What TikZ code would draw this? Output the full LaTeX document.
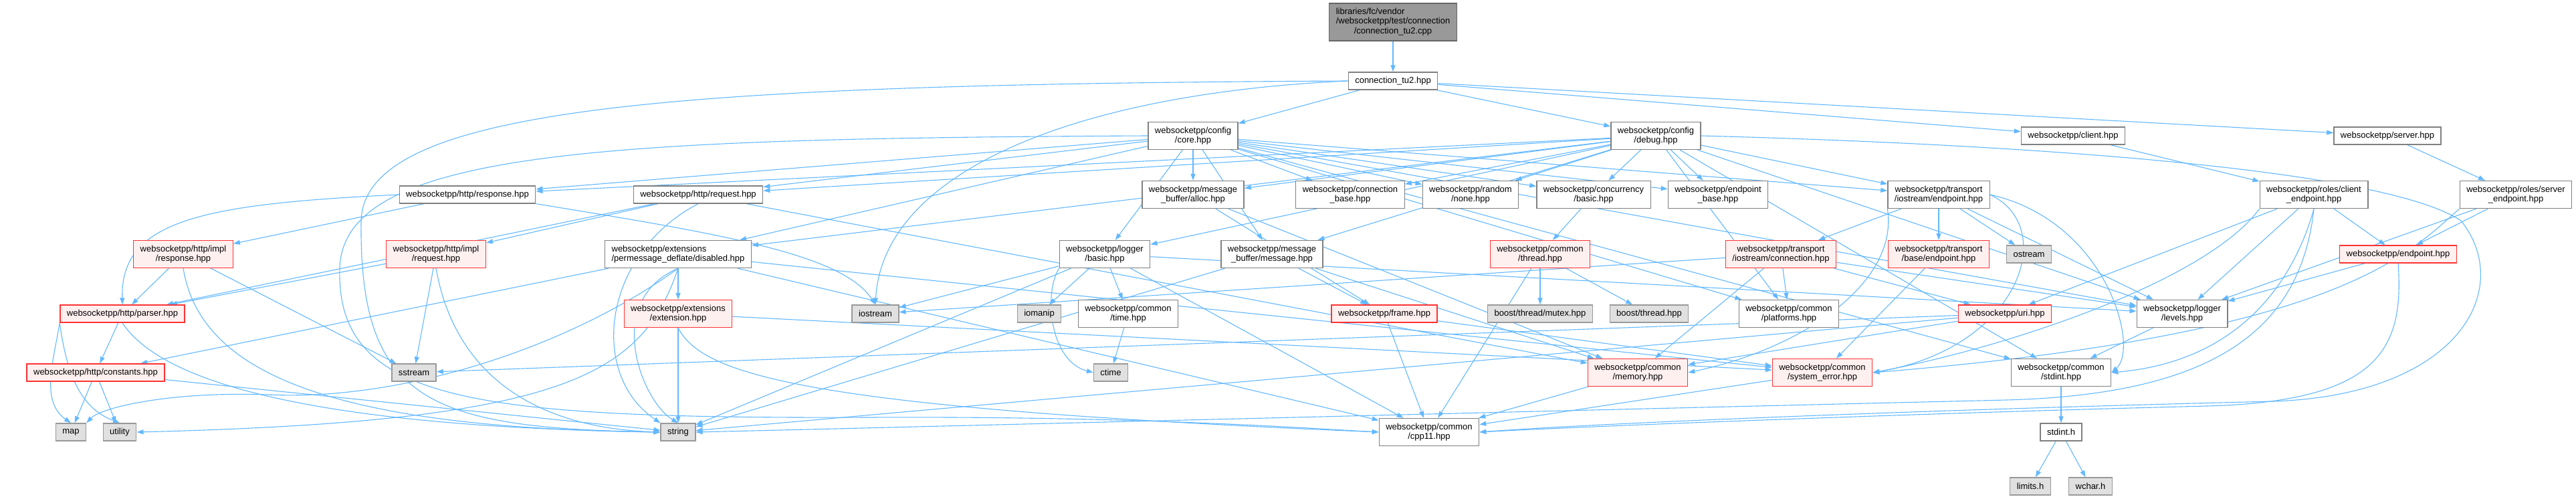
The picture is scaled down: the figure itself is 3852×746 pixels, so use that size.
\documentclass[tikz,border=0pt]{standalone}
\usepackage{fontspec}
\setmainfont{Liberation Sans}
\usepackage{tikz}
\usetikzlibrary{arrows.meta, positioning}
\definecolor{edgeblue}{HTML}{63B8FF}
\definecolor{boxgray}{HTML}{808080}
\definecolor{rootfill}{HTML}{999999}
\definecolor{rootdraw}{HTML}{666666}
\definecolor{hdrred}{HTML}{FFF0F0}
\definecolor{boxred}{HTML}{FF3333}
\definecolor{sysfill}{HTML}{E0E0E0}
\definecolor{sysdraw}{HTML}{999999}
\pgfdeclarelayer{background}
\pgfsetlayers{background,main}
\tikzset{
  filebox/.style={rectangle, draw=boxgray, fill=white, align=center,
    font=\fontsize{13}{14.5}\selectfont, inner xsep=10pt, inner ysep=3pt,
    minimum height=26pt, line width=1.3pt},
  twoline/.style={minimum height=41pt},
  redbox/.style={filebox, draw=boxred, fill=hdrred},
  sysbox/.style={filebox, draw=sysdraw, fill=sysfill},
  rootbox/.style={filebox, draw=rootdraw, fill=rootfill, minimum height=56pt},
  edge/.style={-{Stealth[length=10pt, width=7pt, inset=0pt]}, line width=1.1pt, color=edgeblue}
}

\begin{document}
\begin{tikzpicture}[x=1pt, y=-1pt]
  \useasboundingbox (0,0) rectangle (3852,746);
  % rows of files
  \node[rootbox] (root) at (2083,33) {\begin{tabular}{@{}l@{}}libraries/fc/vendor\\/websocketpp/test/connection\\\multicolumn{1}{@{}c@{}}{/connection\_tu2.cpp}\end{tabular}};
  \node[filebox] (tu2) at (2083,121) {connection\_tu2.hpp};
  \node[filebox, twoline] (core) at (1784,203) {websocketpp/config\\/core.hpp};
  \node[filebox, twoline] (debug) at (2476,203) {websocketpp/config\\/debug.hpp};
  \node[filebox] (client) at (3100,203) {websocketpp/client.hpp};
  \node[filebox] (server) at (3570,203) {websocketpp/server.hpp};
  \node[filebox] (response) at (699,291) {websocketpp/http/response.hpp};
  \node[filebox] (request) at (1044,291) {websocketpp/http/request.hpp};
  \node[filebox, twoline] (alloc) at (1784,291) {websocketpp/message\\\_buffer/alloc.hpp};
  \node[filebox, twoline] (connbase) at (2019,291) {websocketpp/connection\\\_base.hpp};
  \node[filebox, twoline] (none) at (2199,291) {websocketpp/random\\/none.hpp};
  \node[filebox, twoline] (basic) at (2383,291) {websocketpp/concurrency\\/basic.hpp};
  \node[filebox, twoline] (epbase) at (2569,291) {websocketpp/endpoint\\\_base.hpp};
  \node[filebox, twoline] (ioendpoint) at (2899,291) {websocketpp/transport\\/iostream/endpoint.hpp};
  \node[filebox, twoline] (clientep) at (3460,291) {websocketpp/roles/client\\\_endpoint.hpp};
  \node[filebox, twoline] (serverep) at (3762,291) {websocketpp/roles/server\\\_endpoint.hpp};
  \node[redbox, twoline] (implresp) at (274,380) {websocketpp/http/impl\\/response.hpp};
  \node[redbox, twoline] (implreq) at (652,380) {websocketpp/http/impl\\/request.hpp};
  \node[filebox, twoline, align=left] (disabled) at (1014,380) {websocketpp/extensions\\/permessage\_deflate/disabled.hpp};
  \node[filebox, twoline] (logbasic) at (1652,380) {websocketpp/logger\\/basic.hpp};
  \node[filebox, twoline] (message) at (1902,380) {websocketpp/message\\\_buffer/message.hpp};
  \node[redbox, twoline] (thread) at (2303,380) {websocketpp/common\\/thread.hpp};
  \node[redbox, twoline] (ioconn) at (2663,380) {websocketpp/transport\\/iostream/connection.hpp};
  \node[redbox, twoline] (baseep) at (2899,380) {websocketpp/transport\\/base/endpoint.hpp};
  \node[sysbox] (ostream) at (3034,380) {ostream};
  \node[redbox] (endpoint) at (3586,380) {websocketpp/endpoint.hpp};
  \node[redbox] (parser) at (183,469) {websocketpp/http/parser.hpp};
  \node[redbox, twoline] (extension) at (1014,469) {websocketpp/extensions\\/extension.hpp};
  \node[sysbox] (iostream) at (1309,469) {iostream};
  \node[sysbox] (iomanip) at (1554,469) {iomanip};
  \node[filebox, twoline] (time) at (1687,469) {websocketpp/common\\/time.hpp};
  \node[redbox] (frame) at (2070,469) {websocketpp/frame.hpp};
  \node[sysbox] (mutex) at (2303,469) {boost/thread/mutex.hpp};
  \node[sysbox] (bthread) at (2466,469) {boost/thread.hpp};
  \node[filebox, twoline] (platforms) at (2675,469) {websocketpp/common\\/platforms.hpp};
  \node[redbox] (uri) at (2998,469) {websocketpp/uri.hpp};
  \node[filebox, twoline] (levels) at (3263,469) {websocketpp/logger\\/levels.hpp};
  \node[redbox] (constants) at (143,557) {websocketpp/http/constants.hpp};
  \node[sysbox] (sstream) at (619,557) {sstream};
  \node[sysbox] (ctime) at (1661,557) {ctime};
  \node[redbox, twoline] (memory) at (2449,557) {websocketpp/common\\/memory.hpp};
  \node[redbox, twoline] (syserr) at (2725,557) {websocketpp/common\\/system\_error.hpp};
  \node[filebox, twoline] (stdint) at (3082,557) {websocketpp/common\\/stdint.hpp};
  \node[sysbox] (map) at (106,646) {map};
  \node[sysbox] (utility) at (179,646) {utility};
  \node[sysbox] (string) at (1014,646) {string};
  \node[filebox, twoline] (cpp11) at (2137,646) {websocketpp/common\\/cpp11.hpp};
  \node[filebox] (stdinth) at (3082,646) {stdint.h};
  \node[sysbox] (limits) at (3036,727) {limits.h};
  \node[sysbox] (wchar) at (3126,727) {wchar.h};

  \begin{pgfonlayer}{background}
  \foreach \a/\b in {root/tu2, tu2/core, tu2/debug, tu2/client, tu2/server,
      core/response, core/request, core/alloc, core/connbase, core/none, core/basic,
      core/epbase, core/ioendpoint, core/logbasic, core/message, core/disabled,
      core/platforms, core/levels, core/stdint,
      debug/response, debug/request, debug/alloc, debug/connbase, debug/none,
      debug/basic, debug/epbase, debug/ioendpoint, debug/logbasic, debug/message,
      debug/disabled, debug/platforms, debug/levels, debug/stdint,
      client/clientep, server/serverep,
      clientep/endpoint, clientep/uri, clientep/levels,
      serverep/endpoint, serverep/levels, endpoint/levels,
      response/implresp, request/parser, request/implreq, request/memory,
      implresp/parser, implresp/sstream, implreq/parser, implreq/sstream,
      parser/constants, constants/map, constants/utility, constants/string,
      disabled/extension, disabled/constants, disabled/syserr, disabled/cpp11,
      extension/string, extension/syserr,
      logbasic/iostream, logbasic/iomanip, logbasic/time, logbasic/levels,
      logbasic/string, logbasic/cpp11, time/ctime,
      message/frame, message/memory, message/string, alloc/frame, alloc/memory,
      basic/thread, thread/mutex, thread/bthread, thread/cpp11,
      ioendpoint/ioconn, ioendpoint/baseep, ioendpoint/ostream, ioendpoint/levels,
      ioconn/platforms, ioconn/uri, ioconn/levels, ioconn/memory, ioconn/iostream,
      uri/sstream, uri/memory, uri/string,
      frame/syserr, frame/cpp11, memory/cpp11, syserr/cpp11, baseep/syserr,
      levels/stdint, stdint/stdinth, stdinth/limits, stdinth/wchar}
    \draw[edge] (\a) -- (\b);
  % long loops
  \draw[edge] (tu2.west) .. controls (1000,126) and (545,160) .. (540,330) .. controls (537,600) and (640,640) .. (string.west);
  \draw[edge] (tu2.west) .. controls (1600,140) and (1320,260) .. (iostream.north);
  \draw[edge] (core.west) .. controls (900,207) and (515,225) .. (508,400) .. controls (502,600) and (700,626) .. (1300,624) .. controls (1700,622) and (1950,640) .. (cpp11.west);
  \draw[edge] (debug.east) .. controls (3000,215) and (3560,250) .. (3680,330) .. controls (3760,430) and (3680,590) .. (3400,600) .. controls (2900,612) and (2400,632) .. (cpp11.east);
  \draw[edge] (endpoint.south) .. controls (3595,520) and (3560,600) .. (3300,607) .. controls (2900,617) and (2400,636) .. (cpp11.east);
  \draw[edge] (clientep.south) .. controls (3430,420) and (3350,540) .. (stdint.east);
  \draw[edge] (clientep.south) .. controls (3440,500) and (3300,590) .. (3000,598) .. controls (2000,622) and (1300,640) .. (string.east);
  \draw[edge] (serverep.south west) .. controls (3600,380) and (3500,500) .. (syserr.east);
  \draw[edge] (clientep.south west) .. controls (3300,420) and (3000,520) .. (syserr.east);
  \draw[edge] (ioendpoint.east) .. controls (3150,330) and (3200,520) .. (stdint.east);
  \draw[edge] (ioendpoint.east) .. controls (3080,340) and (3020,520) .. (syserr.east);
  \draw[edge] (ioendpoint.south west) .. controls (2840,420) and (2700,520) .. (memory.east);
  \draw[edge] (response.west) .. controls (300,305) and (180,330) .. (parser.north);
  \draw[edge] (response.south east) .. controls (1080,350) and (1260,380) .. (iostream.north);
  \draw[edge] (parser.south west) .. controls (80,540) and (60,600) .. (map.north);
  \draw[edge] (parser.south west) .. controls (100,560) and (120,610) .. (utility.north);
  \draw[edge] (parser.south) .. controls (260,600) and (600,640) .. (string.west);
  \draw[edge] (implresp.south) .. controls (300,560) and (500,640) .. (string.west);
  \draw[edge] (implreq.south) .. controls (680,560) and (800,640) .. (string.west);
  \draw[edge] (request.south) .. controls (900,380) and (880,560) .. (string.north west);
  \draw[edge] (disabled.south) .. controls (850,520) and (600,600) .. (400,590) .. controls (250,585) and (150,610) .. (map.north east);
  \draw[edge] (disabled.south) .. controls (960,560) and (850,630) .. (utility.east);
  \draw[edge] (disabled.south) .. controls (900,450) and (960,600) .. (string.north);
  \draw[edge] (extension.south) .. controls (1050,560) and (1200,610) .. (cpp11.west);
  \draw[edge] (logbasic.south west) .. controls (1560,440) and (1570,540) .. (ctime.west);
  \end{pgfonlayer}
\end{tikzpicture}
\end{document}
